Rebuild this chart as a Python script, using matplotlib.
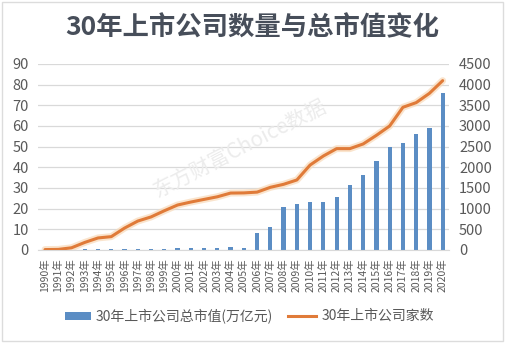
import matplotlib
matplotlib.use("Agg")
import matplotlib.pyplot as plt
from matplotlib.patches import Rectangle
import matplotlib.patheffects as pe
import numpy as np

plt.rcParams["font.family"] = ["Noto Sans CJK SC", "DejaVu Sans"]

years = list(range(1990, 2021))
year_labels = [f"{y}年" for y in years]

# total market value of listed companies (万亿元), left axis
market_value = [0.0, 0.01, 0.1, 0.35, 0.37, 0.35, 0.5, 0.5, 0.3, 0.6, 0.8,
                0.8, 1.0, 1.2, 1.3, 1.2, 8.1, 11.3, 21.0, 22.2, 23.4,
                23.4, 25.8, 31.4, 36.3, 43.1, 50.0, 51.6, 56.1, 59.2, 76.1]

# number of listed companies, right axis
company_count = [10, 14, 53, 183, 291, 323, 530, 700, 800, 949, 1088,
                 1160, 1224, 1287, 1377, 1381, 1400, 1516, 1589, 1694, 2056,
                 2274, 2452, 2452, 2565, 2774, 3000, 3452, 3565, 3790, 4097]

left_ticks = list(range(0, 91, 10))
right_ticks = list(range(0, 4501, 500))

BLUE = "#5b8dc4"
ORANGE = "#e07b39"
GRID = "#d9d9d9"
TXT = "#595959"

fig = plt.figure(figsize=(5.05, 3.44), dpi=100)
fig.patches.append(Rectangle((0.004, 0.01), 0.992, 0.985, transform=fig.transFigure,
                             fill=False, edgecolor="#dcdcdc", linewidth=1.0))

ax = fig.add_axes([0.076, 0.2733, 0.8137, 0.5407])
x = np.arange(len(years))
ax.bar(x, market_value, width=0.32, color=BLUE, zorder=2)
ax.set_xlim(-0.5, len(years) - 0.5)
ax.set_ylim(0, 90)
ax.set_yticks(left_ticks)
ax.yaxis.grid(True, color=GRID, linewidth=0.9, zorder=0)
ax.set_axisbelow(True)
for s in ("top", "right", "left"):
    ax.spines[s].set_visible(False)
ax.spines["bottom"].set_color(GRID)
ax.tick_params(axis="y", length=0, pad=7, labelsize=10.5, labelcolor=TXT)
ax.set_xticks(x)
ax.set_xticklabels(year_labels, rotation=90, fontsize=7.5, color=TXT)
ax.tick_params(axis="x", length=0, pad=6)

ax2 = ax.twinx()
ax2.plot(x, company_count, color=ORANGE, linewidth=2.2, solid_capstyle="round", zorder=3,
         path_effects=[pe.Stroke(linewidth=5, foreground="#f8d9b8", alpha=0.7), pe.Normal()])
ax2.set_ylim(0, 4500)
ax2.set_yticks(right_ticks)
for s in ("top", "right", "left", "bottom"):
    ax2.spines[s].set_visible(False)
ax2.tick_params(axis="y", length=0, pad=7, labelsize=10.5, labelcolor=TXT)

fig.text(0.5, 0.92, "30年上市公司数量与总市值变化", ha="center", va="center",
         fontsize=19, fontweight="bold", color="#474e5a")

fig.text(0.475, 0.565, "东方财富Choice数据", ha="center", va="center", rotation=27,
         fontsize=15, color="#ececec", zorder=0)

# legend
lx = 0.129
fig.patches.append(Rectangle((lx, 0.058 + 0.012), 0.052, 0.022, transform=fig.transFigure,
                             facecolor=BLUE, edgecolor="none"))
fig.text(0.19, 0.081, "30年上市公司总市值(万亿元)", ha="left", va="center",
         fontsize=10, color=TXT)
fig.lines.append(plt.Line2D([0.571, 0.626], [0.081, 0.081], transform=fig.transFigure,
                            color=ORANGE, linewidth=2.2))
fig.text(0.637, 0.081, "30年上市公司家数", ha="left", va="center",
         fontsize=10, color=TXT)

fig.savefig("out.png", dpi=100)
